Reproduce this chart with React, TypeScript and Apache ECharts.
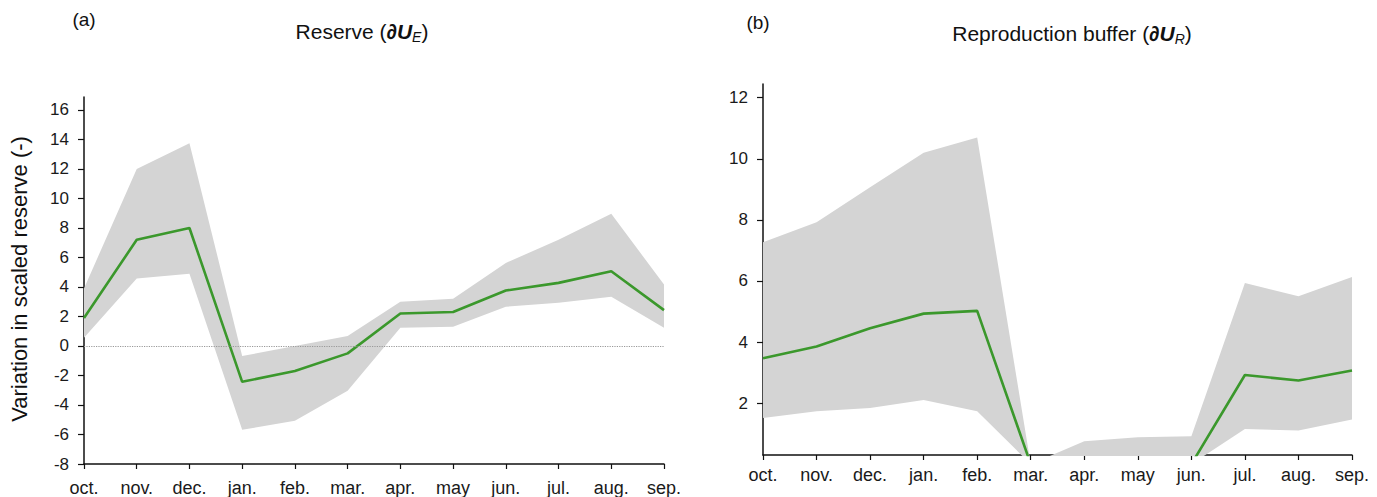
import React, { useEffect, useRef } from "react";
import * as echarts from "echarts";

const months = ["oct.", "nov.", "dec.", "jan.", "feb.", "mar.", "apr.", "may", "jun.", "jul.", "aug.", "sep."];

// Panel (a): Reserve
const reserveMedian = [1.9, 7.2, 8.0, -2.43, -1.7, -0.5, 2.2, 2.3, 3.76, 4.28, 5.07, 2.43];
const reserveUpper = [3.9, 12.0, 13.74, -0.68, 0.0, 0.68, 3.0, 3.2, 5.63, 7.2, 8.96, 4.17];
const reserveLower = [0.56, 4.57, 4.89, -5.68, -5.07, -3.04, 1.24, 1.3, 2.66, 2.93, 3.33, 1.24];
const reserveTicks = [-8, -6, -4, -2, 0, 2, 4, 6, 8, 10, 12, 14, 16];

// Panel (b): Reproduction buffer
const bufferMedian = [3.47, 3.85, 4.45, 4.93, 5.02, 0, 0, 0, 0, 2.92, 2.74, 3.07];
const bufferUpper = [7.27, 7.92, 9.07, 10.2, 10.7, 0, 0.75, 0.88, 0.91, 5.93, 5.5, 6.13];
const bufferLower = [1.51, 1.73, 1.84, 2.1, 1.73, 0, 0, 0, 0, 1.15, 1.1, 1.46];
const bufferTicks = [2, 4, 6, 8, 10, 12];

const GREEN = "#3b982c";
const GRAY = "#d4d4d4";
const FONT = "Liberation Sans, Arial, Helvetica, sans-serif";

export default function App() {
  const ref = useRef<HTMLDivElement>(null);

  useEffect(() => {
    if (!ref.current) return;
    const chart = echarts.init(ref.current, undefined, { renderer: "svg" });

    const diff = (u: number[], l: number[]) => u.map((v, i) => +(v - l[i]).toFixed(3));

    const xAxisBase = (gridIndex: number, margin: number) => ({
      type: "category" as const,
      gridIndex,
      data: months,
      boundaryGap: false,
      axisLine: { onZero: false, lineStyle: { color: "#111", width: 1.5 } },
      axisTick: { show: true, alignWithLabel: true, length: 5, lineStyle: { color: "#111", width: 1.2 } },
      axisLabel: { interval: 0, fontSize: 18, color: "#1a1a1a", fontFamily: FONT, margin },
      splitLine: { show: false },
    });

    const yAxisBase = (gridIndex: number, min: number, max: number, ticks: number[]) => ({
      type: "value" as const,
      gridIndex,
      min,
      max,
      axisLine: { show: true, onZero: false, lineStyle: { color: "#111", width: 1.5 } },
      axisTick: { show: true, length: 6, customValues: ticks, lineStyle: { color: "#111", width: 1.2 } },
      axisLabel: { customValues: ticks, fontSize: 17, color: "#1a1a1a", fontFamily: FONT, margin: 15 },
      splitLine: { show: false },
    });

    const band = (idx: number, stack: string, lower: number[], upper: number[]) => [
      {
        type: "line",
        xAxisIndex: idx,
        yAxisIndex: idx,
        data: lower,
        stack,
        stackStrategy: "all",
        symbol: "none",
        lineStyle: { opacity: 0 },
        areaStyle: { opacity: 0 },
        silent: true,
        z: 1,
      },
      {
        type: "line",
        xAxisIndex: idx,
        yAxisIndex: idx,
        data: diff(upper, lower),
        stack,
        stackStrategy: "all",
        symbol: "none",
        lineStyle: { opacity: 0 },
        areaStyle: { color: GRAY, opacity: 1 },
        silent: true,
        z: 1,
      },
    ];

    chart.setOption({
      animation: false,
      grid: [
        { left: 84, right: 713, top: 97, bottom: 33, containLabel: false },
        { left: 763, right: 25, top: 84, bottom: 42, containLabel: false },
      ],
      xAxis: [xAxisBase(0, 15), xAxisBase(1, 11)],
      yAxis: [yAxisBase(0, -8, 16.88, reserveTicks), yAxisBase(1, 0.3, 12.45, bufferTicks)],
      series: [
        ...band(0, "a", reserveLower, reserveUpper),
        {
          type: "line",
          xAxisIndex: 0,
          yAxisIndex: 0,
          data: reserveMedian,
          symbol: "none",
          lineStyle: { color: GREEN, width: 2.6 },
          z: 3,
          markLine: {
            silent: true,
            symbol: "none",
            label: { show: false },
            lineStyle: { color: "#999", type: "dotted", width: 1.2 },
            data: [{ yAxis: 0 }],
          },
        },
        ...band(1, "b", bufferLower, bufferUpper),
        {
          type: "line",
          xAxisIndex: 1,
          yAxisIndex: 1,
          data: bufferMedian,
          symbol: "none",
          clip: true,
          lineStyle: { color: GREEN, width: 2.6 },
          z: 3,
        },
      ],
      graphic: [
        {
          type: "text",
          x: 84,
          y: 19,
          style: { text: "(a)", font: `19px ${FONT}`, fill: "#111", align: "center", verticalAlign: "middle" },
        },
        {
          type: "text",
          x: 362,
          y: 31,
          style: {
            text: "Reserve ({it|∂U}{sub|E})",
            font: `21px ${FONT}`,
            fill: "#111",
            align: "center",
            verticalAlign: "middle",
            rich: {
              it: { font: `italic bold 21px ${FONT}`, fill: "#111" },
              sub: { font: `italic 14px ${FONT}`, fill: "#111", padding: [12, 0, 0, 0] },
            },
          },
        },
        {
          type: "text",
          x: 758,
          y: 22,
          style: { text: "(b)", font: `19px ${FONT}`, fill: "#111", align: "center", verticalAlign: "middle" },
        },
        {
          type: "text",
          x: 1072,
          y: 33,
          style: {
            text: "Reproduction buffer ({it|∂U}{sub|R})",
            font: `21px ${FONT}`,
            fill: "#111",
            align: "center",
            verticalAlign: "middle",
            rich: {
              it: { font: `italic bold 21px ${FONT}`, fill: "#111" },
              sub: { font: `italic 14px ${FONT}`, fill: "#111", padding: [12, 0, 0, 0] },
            },
          },
        },
        {
          type: "text",
          x: 19,
          y: 279,
          rotation: Math.PI / 2,
          style: {
            text: "Variation in scaled reserve (-)",
            font: `22px ${FONT}`,
            fill: "#111",
            align: "center",
            verticalAlign: "middle",
          },
        },
      ],
    });

    return () => chart.dispose();
  }, []);

  return (
    <div
      ref={ref}
      style={{ position: "fixed", left: 0, top: 0, width: 1377, height: 497, background: "#fff" }}
    />
  );
}
